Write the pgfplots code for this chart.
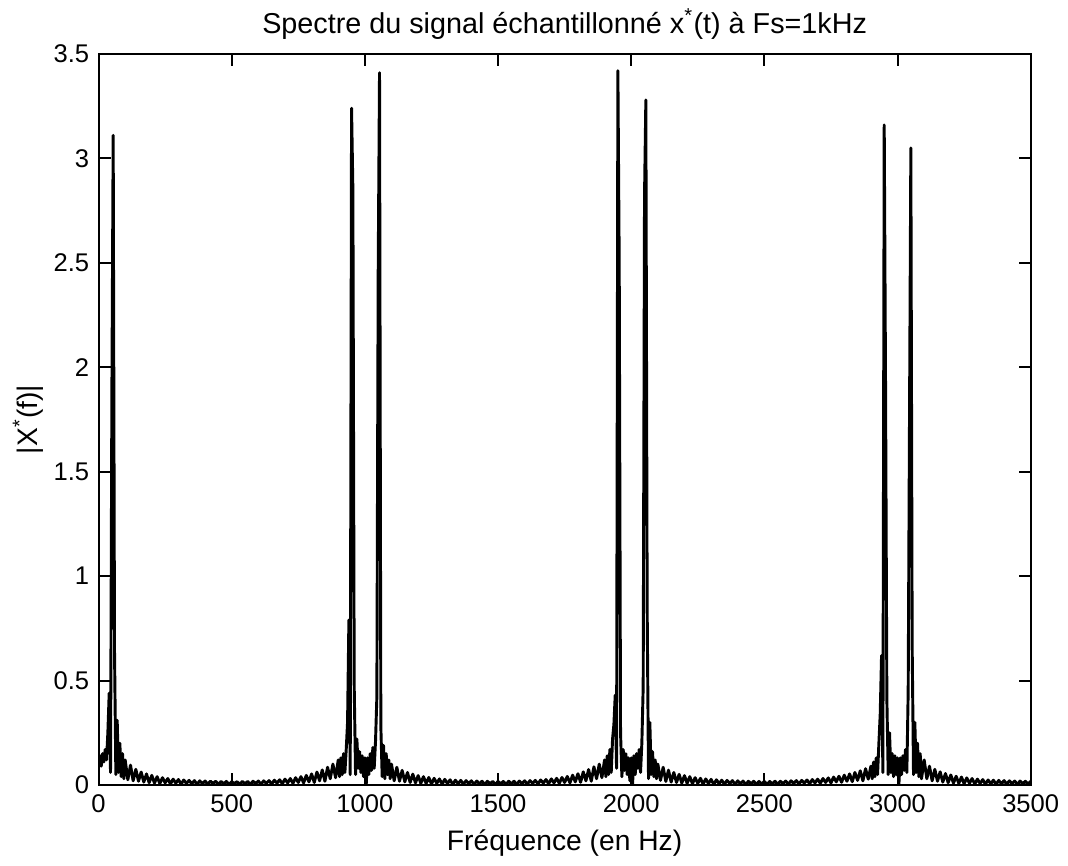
\documentclass[border=0pt]{standalone}
\usepackage{fontspec}
\setmainfont{Liberation Sans}
\usepackage{pgfplots}
\pgfplotsset{compat=1.18}
\begin{document}
\begin{tikzpicture}
\begin{axis}[
  scale only axis,
  width=350pt, height=274.5pt,
  xmin=0, xmax=3500, ymin=0, ymax=3.5,
  xtick={0,500,...,3500},
  ytick={0,0.5,...,3.5},
  xtick pos=both, ytick pos=both,
  tick align=inside,
  major tick length=4.5pt,
  every tick/.style={black, line width=0.75pt},
  axis line style={line width=0.75pt},
  /pgf/number format/assume math mode=true,
  /pgf/number format/1000 sep={},
  yticklabel style={/pgf/number format/fixed},
  tick label style={font=\fontsize{9.6}{11}\selectfont},
  label style={font=\fontsize{10.6}{12}\selectfont},
  title style={font=\fontsize{10.8}{12}\selectfont, at={(axis description cs:0.5,1.019)}, anchor=center},
  xlabel style={at={(axis description cs:0.5,-0.080)}, anchor=center},
  ylabel style={at={(axis description cs:-0.0757,0.5)}, anchor=center},
  title={Spectre du signal échantillonné x\textsuperscript{*}(t) à Fs=1kHz},
  xlabel={Fréquence (en Hz)},
  ylabel={|X\textsuperscript{*}(f)|},
]
\addplot[black, line width=1.1pt, mark=none, line join=round] coordinates {
(0,0.10)(5,0.14)(10,0.09)(15,0.15)(20,0.11)(25,0.17)(30,0.12)(35,0.25)(40,0.44)(45,0.06)
(50,1.85)(55,3.11)(60,0.64)(65,0.05)(70,0.31)(75,0.06)(80,0.20)(85,0.04)(90,0.15)(95,0.03)(100,0.12)
(110,0.025)(120,0.095)(130,0.02)(140,0.075)(150,0.018)(160,0.062)(170,0.014)(180,0.053)(190,0.011)(200,0.046)
(210,0.009)(220,0.040)(230,0.007)(240,0.035)(250,0.010)(260,0.031)(270,0.005)(280,0.028)(290,0.009)(300,0.026)
(310,0.004)(320,0.024)(330,0.008)(340,0.022)(350,0.006)(360,0.021)(370,0.003)(380,0.020)(390,0.007)(400,0.019)
(410,0.004)(420,0.018)(430,0.008)(440,0.018)(450,0.003)(460,0.017)(470,0.006)(480,0.017)(490,0.002)(500,0.016)
(510,0.007)(520,0.016)(530,0.004)(540,0.017)(550,0.006)(560,0.017)(570,0.003)(580,0.018)(590,0.007)(600,0.019)
(610,0.004)(620,0.020)(630,0.008)(640,0.021)(650,0.005)(660,0.023)(670,0.009)(680,0.025)(690,0.006)(700,0.028)
(710,0.010)(720,0.031)(730,0.008)(740,0.035)(750,0.012)(760,0.040)(770,0.010)(780,0.046)(790,0.015)(800,0.053)
(810,0.012)(820,0.062)(830,0.020)(840,0.072)(850,0.018)(860,0.085)(870,0.030)(880,0.10)(890,0.035)(900,0.12)
(905,0.04)(910,0.13)(915,0.05)(920,0.15)(925,0.06)(930,0.17)(935,0.30)(940,0.79)(945,0.05)
(950,3.24)(955,2.85)(960,0.47)(965,0.05)(970,0.22)(975,0.08)(980,0.16)(985,0.06)(990,0.14)(995,0.04)
(1000,0.13)(1005,0.00)(1010,0.13)(1015,0.05)(1020,0.15)(1025,0.07)(1030,0.18)(1035,0.08)(1040,0.21)(1045,0.42)
(1050,2.45)(1055,3.41)(1060,0.28)(1065,0.04)(1070,0.19)(1075,0.03)(1080,0.15)(1085,0.05)(1090,0.12)(1095,0.03)(1100,0.10)
(1110,0.020)(1120,0.085)(1130,0.018)(1140,0.070)(1150,0.015)(1160,0.060)(1170,0.012)(1180,0.052)(1190,0.010)(1200,0.045)
(1210,0.008)(1220,0.040)(1230,0.007)(1240,0.036)(1250,0.005)(1260,0.032)(1270,0.008)(1280,0.029)(1290,0.004)(1300,0.027)
(1310,0.007)(1320,0.025)(1330,0.003)(1340,0.023)(1350,0.006)(1360,0.022)(1370,0.004)(1380,0.021)(1390,0.007)(1400,0.020)
(1410,0.003)(1420,0.019)(1430,0.006)(1440,0.018)(1450,0.002)(1460,0.018)(1470,0.006)(1480,0.017)(1490,0.003)(1500,0.017)
(1510,0.006)(1520,0.017)(1530,0.002)(1540,0.018)(1550,0.005)(1560,0.018)(1570,0.003)(1580,0.019)(1590,0.007)(1600,0.020)
(1610,0.004)(1620,0.021)(1630,0.008)(1640,0.022)(1650,0.005)(1660,0.024)(1670,0.009)(1680,0.026)(1690,0.006)(1700,0.029)
(1710,0.010)(1720,0.032)(1730,0.008)(1740,0.036)(1750,0.012)(1760,0.041)(1770,0.010)(1780,0.047)(1790,0.015)(1800,0.054)
(1810,0.013)(1820,0.063)(1830,0.020)(1840,0.074)(1850,0.018)(1860,0.087)(1870,0.030)(1880,0.10)(1890,0.035)(1900,0.12)
(1905,0.04)(1910,0.14)(1915,0.05)(1920,0.17)(1925,0.06)(1930,0.22)(1935,0.29)(1940,0.43)(1945,0.08)
(1950,3.42)(1955,2.50)(1960,0.25)(1965,0.04)(1970,0.17)(1975,0.07)(1980,0.15)(1985,0.05)(1990,0.13)(1995,0.02)
(2000,0.13)(2005,0.00)(2010,0.14)(2015,0.05)(2020,0.15)(2025,0.08)(2030,0.17)(2035,0.06)(2040,0.20)(2045,0.47)
(2050,2.82)(2055,3.28)(2060,0.84)(2065,0.03)(2070,0.30)(2075,0.05)(2080,0.16)(2085,0.04)(2090,0.12)(2095,0.03)(2100,0.10)
(2110,0.022)(2120,0.085)(2130,0.017)(2140,0.071)(2150,0.014)(2160,0.060)(2170,0.012)(2180,0.051)(2190,0.009)(2200,0.045)
(2210,0.008)(2220,0.040)(2230,0.006)(2240,0.035)(2250,0.008)(2260,0.032)(2270,0.004)(2280,0.029)(2290,0.007)(2300,0.027)
(2310,0.003)(2320,0.025)(2330,0.006)(2340,0.023)(2350,0.004)(2360,0.022)(2370,0.007)(2380,0.021)(2390,0.003)(2400,0.020)
(2410,0.006)(2420,0.019)(2430,0.002)(2440,0.018)(2450,0.006)(2460,0.018)(2470,0.003)(2480,0.017)(2490,0.005)(2500,0.017)
(2510,0.002)(2520,0.017)(2530,0.006)(2540,0.018)(2550,0.003)(2560,0.018)(2570,0.007)(2580,0.019)(2590,0.004)(2600,0.020)
(2610,0.008)(2620,0.021)(2630,0.005)(2640,0.022)(2650,0.009)(2660,0.024)(2670,0.006)(2680,0.026)(2690,0.010)(2700,0.028)
(2710,0.008)(2720,0.031)(2730,0.012)(2740,0.034)(2750,0.010)(2760,0.038)(2770,0.015)(2780,0.042)(2790,0.013)(2800,0.047)
(2810,0.018)(2820,0.053)(2830,0.016)(2840,0.060)(2850,0.022)(2860,0.068)(2870,0.020)(2880,0.078)(2890,0.028)(2900,0.09)
(2905,0.03)(2910,0.11)(2915,0.04)(2920,0.13)(2925,0.05)(2930,0.20)(2935,0.34)(2940,0.62)(2945,0.06)
(2950,3.16)(2955,1.92)(2960,0.41)(2965,0.05)(2970,0.25)(2975,0.06)(2980,0.15)(2985,0.04)(2990,0.14)(2995,0.05)
(3000,0.13)(3005,0.00)(3010,0.13)(3015,0.05)(3020,0.14)(3025,0.07)(3030,0.17)(3035,0.06)(3040,0.45)(3045,1.77)
(3050,3.05)(3055,0.66)(3060,0.05)(3065,0.30)(3070,0.06)(3075,0.20)(3080,0.04)(3085,0.15)(3090,0.03)(3100,0.12)
(3110,0.030)(3120,0.090)(3130,0.020)(3140,0.075)(3150,0.018)(3160,0.063)(3170,0.014)(3180,0.055)(3190,0.011)(3200,0.048)
(3210,0.009)(3220,0.042)(3230,0.008)(3240,0.038)(3250,0.006)(3260,0.034)(3270,0.008)(3280,0.031)(3290,0.005)(3300,0.028)
(3310,0.007)(3320,0.026)(3330,0.004)(3340,0.024)(3350,0.006)(3360,0.023)(3370,0.003)(3380,0.022)(3390,0.006)(3400,0.021)
(3410,0.004)(3420,0.020)(3430,0.007)(3440,0.019)(3450,0.003)(3460,0.019)(3470,0.006)(3480,0.018)(3490,0.004)(3500,0.018)
};
\coordinate (sw) at (rel axis cs:0,0);
\coordinate (ne) at (rel axis cs:1,1);
\end{axis}
\path[use as bounding box] ([xshift=-37pt,yshift=-29.2pt]sw) rectangle ([xshift=12.3pt,yshift=19.4pt]ne);
\end{tikzpicture}
\end{document}
